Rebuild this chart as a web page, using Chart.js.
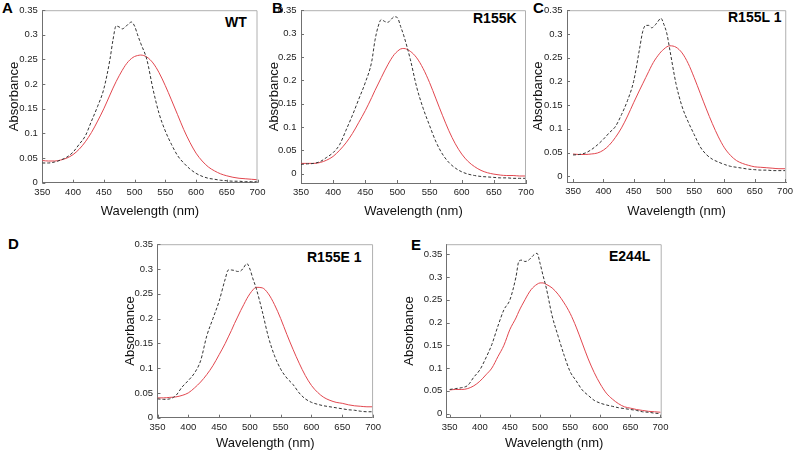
<!DOCTYPE html>
<html>
<head>
<meta charset="utf-8">
<script src="https://cdn.jsdelivr.net/npm/chart.js@4"></script>
<style>
  body { margin: 0; background: #fff; width: 797px; height: 451px; position: relative; overflow: hidden;
         font-family: "Liberation Sans", Arial, sans-serif; }
  canvas { position: absolute; }
  .lbl { position: absolute; font-weight: bold; font-size: 14px; line-height: 14px; color: #000; white-space: nowrap; }
</style>
</head>
<body>
<div class="lbl" style="left:2px;top:1px;font-size:15px">A</div>
<div class="lbl" style="left:272px;top:1px;font-size:15px">B</div>
<div class="lbl" style="left:533px;top:1px;font-size:15px">C</div>
<div class="lbl" style="left:8px;top:237px;font-size:15px">D</div>
<div class="lbl" style="left:411px;top:238px;font-size:15px">E</div>
<div class="lbl" style="left:225px;top:15px">WT</div>
<div class="lbl" style="left:473px;top:11px">R155K</div>
<div class="lbl" style="left:728px;top:10px">R155L 1</div>
<div class="lbl" style="left:307px;top:250px">R155E 1</div>
<div class="lbl" style="left:609px;top:249px">E244L</div>

<script>
// wavelengths (nm) shared by every curve
const wl = [350,360,370,380,390,400,410,420,430,440,450,460,465,470,475,480,485,490,495,500,505,510,
            520,530,540,550,560,570,580,590,600,610,620,630,640,650,660,670,680,690,700];

const xTicks = [350,400,450,500,550,600,650,700];
const yTicks = [0,0.05,0.1,0.15,0.2,0.25,0.3,0.35];

// A - WT
const wtSolid = [.045,.044,.044,.046,.050,.057,.068,.083,.102,.125,.150,.178,.192,.205,.217,.228,.238,.246,.252,.256,.258,.259,
                 .255,.243,.223,.197,.168,.138,.108,.082,.060,.044,.032,.024,.018,.014,.011,.009,.008,.007,.006];
const wtDashed = [.040,.040,.042,.046,.052,.062,.078,.095,.125,.155,.190,.250,.290,.318,.316,.312,.316,.322,.326,.318,.300,.283,
                  .250,.190,.140,.105,.078,.055,.040,.028,.019,.013,.009,.007,.005,.004,.003,.003,.002,.002,.002];
// B - R155K
const r155kSolid = [.022,.022,.022,.024,.029,.037,.050,.066,.086,.110,.135,.163,.178,.192,.206,.220,.233,.245,.255,.262,.267,.268,
                    .262,.248,.225,.195,.160,.125,.092,.064,.042,.026,.015,.007,.002,-.001,-.003,-.004,-.004,-.005,-.005];
const r155kDashed = [.020,.021,.022,.026,.035,.045,.062,.093,.125,.160,.195,.240,.285,.315,.330,.326,.324,.330,.336,.334,.315,.295,
                     .245,.185,.140,.103,.068,.042,.024,.012,.004,-.001,-.004,-.006,-.007,-.008,-.009,-.009,-.010,-.010,-.010];
// C - R155L 1
const r155lSolid = [.047,.046,.046,.047,.049,.055,.066,.082,.102,.127,.155,.182,.195,.208,.221,.234,.245,.254,.262,.268,.273,.275,
                    .272,.260,.238,.208,.175,.142,.111,.083,.060,.044,.033,.027,.023,.020,.019,.018,.017,.016,.016];
const r155lDashed = [.045,.046,.049,.056,.066,.078,.092,.105,.130,.160,.200,.270,.305,.318,.318,.313,.318,.326,.333,.320,.300,.265,
                     .195,.147,.115,.088,.062,.046,.036,.030,.025,.021,.019,.017,.015,.014,.013,.013,.012,.012,.012];
// D - R155E 1
const r155eSolid = [.040,.040,.041,.042,.045,.050,.060,.072,.087,.105,.127,.150,.163,.176,.190,.203,.216,.228,.240,.250,.258,.263,
                    .262,.250,.228,.200,.168,.138,.110,.085,.065,.051,.041,.035,.031,.029,.026,.024,.023,.022,.022];
const r155eDashed = [.038,.037,.038,.045,.062,.075,.090,.115,.165,.200,.235,.280,.298,.298,.297,.295,.296,.303,.311,.300,.280,.262,
                     .215,.163,.125,.098,.080,.067,.050,.038,.031,.027,.024,.022,.020,.018,.016,.015,.013,.012,.012];
// E - E244L
const e244lSolid = [.052,.053,.053,.055,.061,.071,.085,.100,.125,.150,.185,.210,.225,.238,.250,.262,.272,.279,.284,.287,.287,.284,
                    .276,.262,.243,.220,.190,.155,.120,.090,.065,.045,.032,.022,.015,.012,.009,.007,.005,.004,.003];
const e244lDashed = [.053,.055,.057,.062,.080,.096,.122,.152,.192,.228,.250,.300,.335,.337,.334,.336,.342,.349,.352,.330,.303,.278,
                     .215,.170,.128,.092,.072,.052,.040,.029,.023,.019,.016,.013,.011,.009,.007,.004,.003,.001,.000];

// plot box geometry on the page + axis ranges
const panels = [
  { solid: wtSolid,    dashed: wtDashed,    plotL: 42.3,  plotR: 257.5, plotT: 6,     plotB: 182.7, titleX: 15,    titleY: 211, xMin: 350, xMax: 700, yMin: 0,      yMax: 0.35 },
  { solid: r155kSolid, dashed: r155kDashed, plotL: 301,   plotR: 526,   plotT: 7,     plotB: 183,   titleX: 275,   titleY: 211, xMin: 350, xMax: 700, yMin: -0.02,  yMax: 0.35 },
  { solid: r155lSolid, dashed: r155lDashed, plotL: 567,   plotR: 789,   plotT: 5,     plotB: 182,   titleX: 538.5, titleY: 211, xMin: 340, xMax: 702, yMin: -0.012, yMax: 0.35 },
  { solid: r155eSolid, dashed: r155eDashed, plotL: 157.5, plotR: 373.3, plotT: 241.7, plotB: 417.7, titleX: 131,   titleY: 443, xMin: 350, xMax: 700, yMin: 0,      yMax: 0.35 },
  { solid: e244lSolid, dashed: e244lDashed, plotL: 446.7, plotR: 661.7, plotT: 241.7, plotB: 417.7, titleX: 410,   titleY: 443, xMin: 345, xMax: 702, yMin: -0.009, yMax: 0.372 }
];

const tickFont = { family: '"Liberation Sans", Arial, sans-serif', size: 9.5 };
const titleFont = { family: '"Liberation Sans", Arial, sans-serif', size: 13 };

// light frame on top/right and small inward tick marks
const frameTicks = {
  id: 'frameTicks',
  afterDraw(chart) {
    const { ctx, chartArea: a, scales: { x, y } } = chart;
    ctx.save();
    ctx.lineWidth = 1;
    ctx.strokeStyle = '#b0b0b0';
    ctx.beginPath();
    ctx.moveTo(a.left, a.top + 0.5);
    ctx.lineTo(a.right - 0.5, a.top + 0.5);
    ctx.lineTo(a.right - 0.5, a.bottom);
    ctx.stroke();
    ctx.strokeStyle = '#707070';
    ctx.beginPath();
    x.ticks.forEach(t => {
      const px = Math.round(x.getPixelForValue(t.value)) + 0.5;
      ctx.moveTo(px, a.bottom);
      ctx.lineTo(px, a.bottom - 3);
    });
    y.ticks.forEach(t => {
      const py = Math.round(y.getPixelForValue(t.value)) + 0.5;
      ctx.moveTo(a.left, py);
      ctx.lineTo(a.left + 3, py);
    });
    ctx.stroke();
    ctx.restore();
  }
};

const toPoints = arr => wl.map((w, i) => ({ x: w, y: arr[i] }));

panels.forEach(p => {
  const cl = Math.round(p.titleX - 7.8);
  const ct = Math.max(0, Math.round(p.plotT - 8));
  const cb = Math.round(p.titleY + 7.8);
  const cr = Math.min(797, Math.round(p.plotR + 12));
  const canvas = document.createElement('canvas');
  canvas.width = cr - cl;
  canvas.height = cb - ct;
  canvas.style.left = cl + 'px';
  canvas.style.top = ct + 'px';
  document.body.appendChild(canvas);

  new Chart(canvas, {
    type: 'line',
    data: {
      datasets: [
        {
          data: toPoints(p.dashed),
          borderColor: '#333',
          borderWidth: 1,
          borderDash: [3, 2],
          pointRadius: 0,
          cubicInterpolationMode: 'monotone'
        },
        {
          data: toPoints(p.solid),
          borderColor: '#e2474f',
          borderWidth: 1,
          pointRadius: 0,
          cubicInterpolationMode: 'monotone'
        }
      ]
    },
    options: {
      responsive: false,
      animation: false,
      layout: {
        autoPadding: false,
        padding: { left: 0, top: p.plotT - ct, right: cr - p.plotR, bottom: 0 }
      },
      plugins: { legend: { display: false }, tooltip: { enabled: false } },
      scales: {
        x: {
          type: 'linear',
          min: p.xMin,
          max: p.xMax,
          afterBuildTicks: s => { s.ticks = xTicks.map(v => ({ value: v })); },
          afterFit: s => { s.height = cb - p.plotB; },
          grid: { display: false, drawTicks: false },
          border: { display: true, color: '#707070' },
          ticks: { color: '#222', font: tickFont, padding: 4, maxRotation: 0, autoSkip: false },
          title: { display: true, text: 'Wavelength (nm)', color: '#111', font: titleFont, padding: 0 }
        },
        y: {
          min: p.yMin,
          max: p.yMax,
          afterBuildTicks: s => { s.ticks = yTicks.map(v => ({ value: v })); },
          afterFit: s => { s.width = p.plotL - cl; },
          grid: { display: false, drawTicks: false },
          border: { display: true, color: '#707070' },
          ticks: { color: '#222', font: tickFont, padding: 4.5, callback: v => String(v) },
          title: { display: true, text: 'Absorbance', color: '#111', font: titleFont, padding: 0 }
        }
      }
    },
    plugins: [frameTicks]
  });
});
</script>
</body>
</html>
